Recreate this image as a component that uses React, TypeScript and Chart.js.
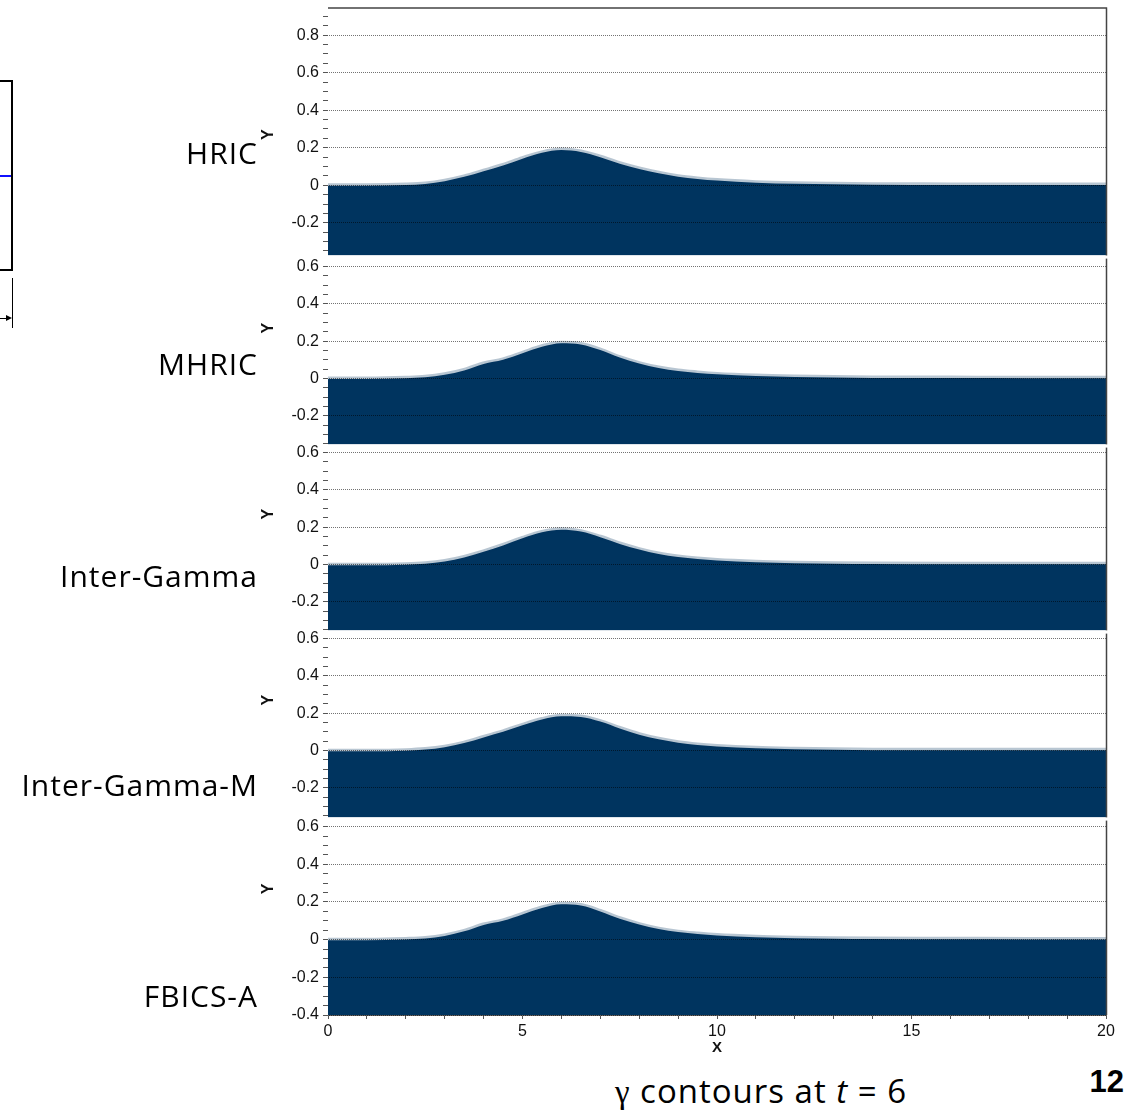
import React, { useEffect, useRef } from 'react';
import { Chart, registerables } from 'chart.js';

Chart.register(...registerables);

// ---------- data ----------
const X_VALUES = [0, 1, 2, 2.5, 3, 3.5, 4, 4.5, 5, 5.5, 6, 6.5, 7, 7.5, 8, 8.5, 9, 9.5, 10, 11, 12, 13, 14, 16, 18, 20];

const HRIC = [-0.003, -0.003, 0.001, 0.007, 0.022, 0.045, 0.075, 0.106, 0.142, 0.173, 0.188, 0.178, 0.15, 0.115, 0.087, 0.064, 0.046, 0.034, 0.025, 0.014, 0.008, 0.005, 0.003, 0.002, 0.001, 0.001];
const MHRIC = [-0.003, -0.003, 0.001, 0.006, 0.02, 0.043, 0.078, 0.1, 0.135, 0.17, 0.189, 0.182, 0.152, 0.112, 0.08, 0.056, 0.04, 0.03, 0.022, 0.013, 0.008, 0.005, 0.003, 0.002, 0.001, 0.001];
const INTER_GAMMA = [-0.004, -0.004, -0.001, 0.004, 0.016, 0.038, 0.068, 0.102, 0.14, 0.172, 0.186, 0.176, 0.146, 0.11, 0.08, 0.056, 0.04, 0.029, 0.021, 0.012, 0.007, 0.004, 0.002, 0.001, 0.001, 0.001];
const INTER_GAMMA_M = [-0.004, -0.004, -0.001, 0.005, 0.018, 0.04, 0.07, 0.1, 0.135, 0.166, 0.183, 0.18, 0.155, 0.118, 0.085, 0.06, 0.042, 0.03, 0.022, 0.012, 0.007, 0.004, 0.002, 0.001, 0.001, 0.001];
const FBICS_A = [-0.003, -0.003, 0.001, 0.006, 0.02, 0.044, 0.078, 0.1, 0.134, 0.168, 0.188, 0.181, 0.15, 0.111, 0.08, 0.056, 0.04, 0.03, 0.022, 0.013, 0.008, 0.005, 0.003, 0.002, 0.001, 0.001];

const SCHEME_NAMES = ['HRIC', 'MHRIC', 'Inter-Gamma', 'Inter-Gamma-M', 'FBICS-A'];
const SERIES = [HRIC, MHRIC, INTER_GAMMA, INTER_GAMMA_M, FBICS_A];

// axis ranges per panel
const Y_MIN = [-0.374, -0.353, -0.353, -0.358, -0.4];
const Y_MAX = [0.942, 0.642, 0.626, 0.626, 0.632];
const X_MIN = 0;
const X_MAX = 20;

// tick labels
const Y_TICK_LABELS = [-0.4, -0.2, 0, 0.2, 0.4, 0.6, 0.8];
const X_TICK_LABELS = [0, 5, 10, 15, 20];
const Y_MINOR_STEP = 0.05;
const X_MINOR_STEP = 1;
const Y_TITLE_VALUE = 0.27;

// ---------- layout / style ----------
const W = 1128;
const H = 1114;
const CANVAS_LEFT = -30;
const PANEL_TOP = [7, 257, 446, 632, 819];
const PANEL_BOTTOM = [257, 446, 632, 819, 1015];
const PLOT_LEFT = 328;
const PLOT_RIGHT = 1106;
const Y_AXIS_W = 60;
const PAD = 12;
const X_AXIS_H = 42;
const LABEL_CENTER_Y = [154, 365, 577, 786, 997];

const NAVY = '#00345f';
const EDGE = 'rgba(0, 52, 95, 0.28)';
const GRID = 'rgba(0, 0, 0, 0.55)';
const TICK_FONT = { family: '"Liberation Sans", Arial, sans-serif', size: 16 };

const near = (a: number, b: number) => Math.abs(a - b) < 1e-6;
const fmt = (v: number) => String(parseFloat(v.toFixed(1)));

function decor(idx: number) {
  return {
    id: 'panelDecor' + idx,
    afterDraw(chart: any) {
      const { ctx, chartArea } = chart;
      const y = chart.scales.y;
      ctx.save();
      ctx.strokeStyle = '#444';
      ctx.lineWidth = 1.5;
      ctx.beginPath();
      ctx.moveTo(chartArea.right + 0.5, chartArea.top);
      ctx.lineTo(chartArea.right + 0.5, chartArea.bottom);
      if (idx === 0) {
        ctx.moveTo(chartArea.left, chartArea.top - 0.5);
        ctx.lineTo(chartArea.right + 1.2, chartArea.top - 0.5);
      }
      ctx.stroke();
      ctx.beginPath();
      // rotated axis title "Y"
      ctx.translate(chartArea.left - 59, y.getPixelForValue(Y_TITLE_VALUE));
      ctx.rotate(-Math.PI / 2);
      ctx.fillStyle = '#111';
      ctx.font = 'bold 16px "Liberation Sans", Arial, sans-serif';
      ctx.textAlign = 'center';
      ctx.textBaseline = 'middle';
      ctx.fillText('Y', 0, 0);
      ctx.restore();
    },
  };
}

function canvasGeom(i: number) {
  const last = i === SERIES.length - 1;
  const top = PANEL_TOP[i] - PAD;
  const height = PANEL_BOTTOM[i] - PANEL_TOP[i] + PAD + (last ? X_AXIS_H : PAD);
  return { top, height, last };
}

export default function App() {
  const refs = useRef<(HTMLCanvasElement | null)[]>([]);

  useEffect(() => {
    const charts = SERIES.map((vals, i) => {
      const canvas = refs.current[i]!;
      const { last } = canvasGeom(i);
      return new Chart(canvas, {
        type: 'line',
        data: {
          datasets: [
            {
              label: SCHEME_NAMES[i],
              data: X_VALUES.map((x, k) => ({ x, y: vals[k] })),
              fill: 'start',
              backgroundColor: NAVY,
              borderColor: EDGE,
              borderWidth: 5,
              pointRadius: 0,
              cubicInterpolationMode: 'monotone',
              clip: 0,
            } as any,
          ],
        },
        options: {
          animation: false,
          responsive: false,
          maintainAspectRatio: false,
          devicePixelRatio: 1,
          events: [],
          layout: {
            padding: {
              left: PLOT_LEFT - CANVAS_LEFT - Y_AXIS_W,
              right: W - PLOT_RIGHT,
              top: PAD,
              bottom: last ? 0 : PAD,
            },
          },
          plugins: { legend: { display: false }, tooltip: { enabled: false }, title: { display: false } },
          scales: {
            x: {
              type: 'linear',
              min: X_MIN,
              max: X_MAX,
              display: last,
              afterFit: (s: any) => {
                s.height = last ? X_AXIS_H : 0;
              },
              afterBuildTicks: (s: any) => {
                const t: any[] = [];
                for (let v = X_MIN; v <= X_MAX + 1e-9; v += X_MINOR_STEP) t.push({ value: v });
                s.ticks = t;
              },
              grid: { drawOnChartArea: false, drawTicks: true, tickLength: 4, color: '#555', tickColor: '#555' },
              border: { display: true, color: '#666', width: 1 },
              ticks: {
                autoSkip: false,
                maxRotation: 0,
                padding: 3,
                color: '#111',
                font: TICK_FONT,
                callback: (v: any) => (X_TICK_LABELS.some((t) => near(t, Number(v))) ? String(v) : ''),
              },
              title: {
                display: true,
                text: 'X',
                color: '#111',
                font: { family: '"Liberation Sans", Arial, sans-serif', size: 15, weight: 'bold' },
                padding: { top: 0, bottom: 0 },
              },
            },
            y: {
              type: 'linear',
              min: Y_MIN[i],
              max: Y_MAX[i],
              afterFit: (s: any) => {
                s.width = Y_AXIS_W;
              },
              afterBuildTicks: (s: any) => {
                const t: any[] = [];
                const start = Math.ceil(s.min / Y_MINOR_STEP - 1e-9);
                for (let k = start; k * Y_MINOR_STEP <= s.max + 1e-9; k++) {
                  t.push({ value: parseFloat((k * Y_MINOR_STEP).toFixed(3)) });
                }
                s.ticks = t;
              },
              grid: {
                z: 1,
                drawTicks: true,
                tickLength: 5,
                lineWidth: 1,
                color: (c: any) => (c.tick && Y_TICK_LABELS.some((t) => near(t, c.tick.value)) ? GRID : 'rgba(0,0,0,0)'),
                tickColor: '#555',
              },
              border: { display: true, color: '#777', width: 1, dash: [1, 1] },
              ticks: {
                autoSkip: false,
                padding: 4,
                color: '#111',
                font: TICK_FONT,
                callback: (v: any) => (Y_TICK_LABELS.some((t) => near(t, Number(v))) ? fmt(Number(v)) : ''),
              },
            },
          },
        } as any,
        plugins: [decor(i)],
      });
    });
    return () => charts.forEach((c) => c.destroy());
  }, []);

  const labelFont = '"Open Sans", "Noto Sans", sans-serif';

  return (
    <div style={{ position: 'absolute', left: 0, top: 0, width: W, height: H, overflow: 'hidden', background: '#fff' }}>
      {/* cropped neighbouring figure at the far left */}
      <div style={{ position: 'absolute', left: -10, top: 80, width: 23, height: 191, border: '2px solid #000', boxSizing: 'border-box' }} />
      <div style={{ position: 'absolute', left: 0, top: 175, width: 11, height: 2, background: '#1010ff' }} />
      <div style={{ position: 'absolute', left: 12, top: 278, width: 1, height: 50, background: '#000' }} />
      <div style={{ position: 'absolute', left: 0, top: 318, width: 8, height: 1, background: '#000' }} />
      <div
        style={{
          position: 'absolute',
          left: 6,
          top: 315,
          width: 0,
          height: 0,
          borderLeft: '6px solid #000',
          borderTop: '3px solid transparent',
          borderBottom: '3px solid transparent',
        }}
      />

      {SERIES.map((_, i) => {
        const g = canvasGeom(i);
        return (
          <canvas
            key={'c' + i}
            ref={(el) => {
              refs.current[i] = el;
            }}
            width={W - CANVAS_LEFT}
            height={g.height}
            style={{ position: 'absolute', left: CANVAS_LEFT, top: g.top, width: W - CANVAS_LEFT, height: g.height, display: 'block' }}
          />
        );
      })}

      {SCHEME_NAMES.map((name, i) => (
        <div
          key={'l' + i}
          style={{
            position: 'absolute',
            right: W - 258,
            top: LABEL_CENTER_Y[i] - 16,
            fontFamily: labelFont,
            fontSize: 30,
            lineHeight: '30px',
            letterSpacing: '1px',
            color: '#000',
            whiteSpace: 'nowrap',
          }}
        >
          {name}
        </div>
      ))}

      <div
        style={{
          position: 'absolute',
          left: 561,
          width: 400,
          top: 1074,
          textAlign: 'center',
          fontFamily: labelFont,
          fontSize: 33,
          lineHeight: '33px',
          letterSpacing: '1px',
          color: '#000',
          whiteSpace: 'nowrap',
        }}
      >
        <span style={{ fontFamily: '"Liberation Serif", "DejaVu Serif", serif' }}>γ</span> contours at <i>t</i> = 6
      </div>

      <div
        style={{
          position: 'absolute',
          right: W - 1124,
          top: 1066,
          fontFamily: '"Liberation Sans", Arial, sans-serif',
          fontWeight: 'bold',
          fontSize: 31,
          lineHeight: '31px',
          color: '#000',
        }}
      >
        12
      </div>
    </div>
  );
}
